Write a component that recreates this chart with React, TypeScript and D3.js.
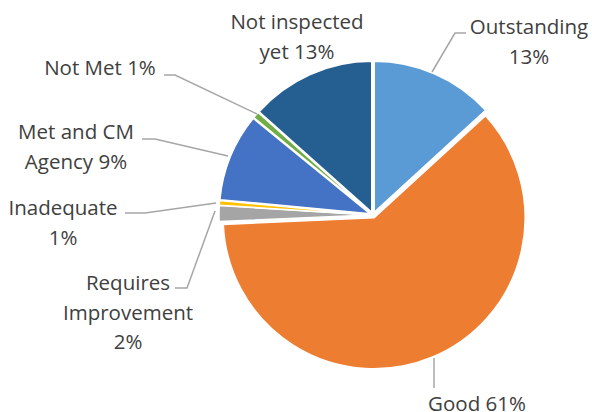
import React from "react";
import * as d3 from "d3";

const categories = ["Outstanding", "Good", "Requires Improvement", "Inadequate", "Met and CM Agency", "Not Met", "Not inspected yet"];
const values = [13.2, 61.1, 1.7, 0.5, 9.4, 0.7, 13.4];
const colors = ["#5B9BD5", "#ED7D31", "#A5A5A5", "#FFC000", "#4472C4", "#70AD47", "#255E91"];
const labelLines = [
  ["Outstanding", "13%"],
  ["Good 61%"],
  ["Requires", "Improvement", "2%"],
  ["Inadequate", "1%"],
  ["Met and CM", "Agency 9%"],
  ["Not Met 1%"],
  ["Not inspected", "yet 13%"],
];

const W = 592, H = 412;
const cx = 373, cy = 215, R = 151, EXPLODE = 3;

// label placement (center x, first line y) and leader polylines
const labelPos: [number, number][] = [
  [529, 34], [477, 411], [128, 290], [63, 215], [76, 139], [100, 75], [297, 29],
];
const leaders: [number, number][][] = [
  [[432, 72], [455, 33], [466, 33]],
  [[434, 358], [434, 388]],
  [[215, 211], [187, 288], [175, 288]],
  [[216, 203], [145, 213], [125, 213]],
  [[228, 156], [155, 139], [142, 139]],
  [[257, 114], [175, 75], [164, 75]],
  [],
];

export default function App() {
  const pie = d3.pie<number>().sort(null).value((d) => d)(values);
  const arc = d3.arc<d3.PieArcDatum<number>>().innerRadius(0).outerRadius(R);
  const lineGen = d3.line();
  return (
    <div style={{ position: "fixed", left: 0, top: 0 }}>
      <svg width={W} height={H} style={{ display: "block", background: "#fff" }}>
        <g transform={`translate(${cx},${cy})`}>
          {pie.map((p, i) => {
            const mid = (p.startAngle + p.endAngle) / 2;
            const dx = Math.sin(mid) * EXPLODE;
            const dy = -Math.cos(mid) * EXPLODE;
            return (
              <path
                key={i}
                d={arc(p) || ""}
                transform={`translate(${dx},${dy})`}
                fill={colors[i]}
                stroke="#fff"
                strokeWidth={1.5}
                strokeLinejoin="round"
              />
            );
          })}
        </g>
        {leaders.map((pts, i) =>
          pts.length ? (
            <path key={i} d={lineGen(pts) || ""} fill="none" stroke="#A6A6A6" strokeWidth={1.5} />
          ) : null
        )}
        {labelLines.map((lines, i) => (
          <text
            key={i}
            x={labelPos[i][0]}
            y={labelPos[i][1]}
            textAnchor="middle"
            fontFamily="'Open Sans', 'Noto Sans', sans-serif"
            fontSize={20.5}
            fill="#404040"
          >
            {lines.map((l, j) => (
              <tspan key={j} x={labelPos[i][0]} dy={j === 0 ? 0 : 29.5}>
                {l}
              </tspan>
            ))}
          </text>
        ))}
      </svg>
    </div>
  );
}
